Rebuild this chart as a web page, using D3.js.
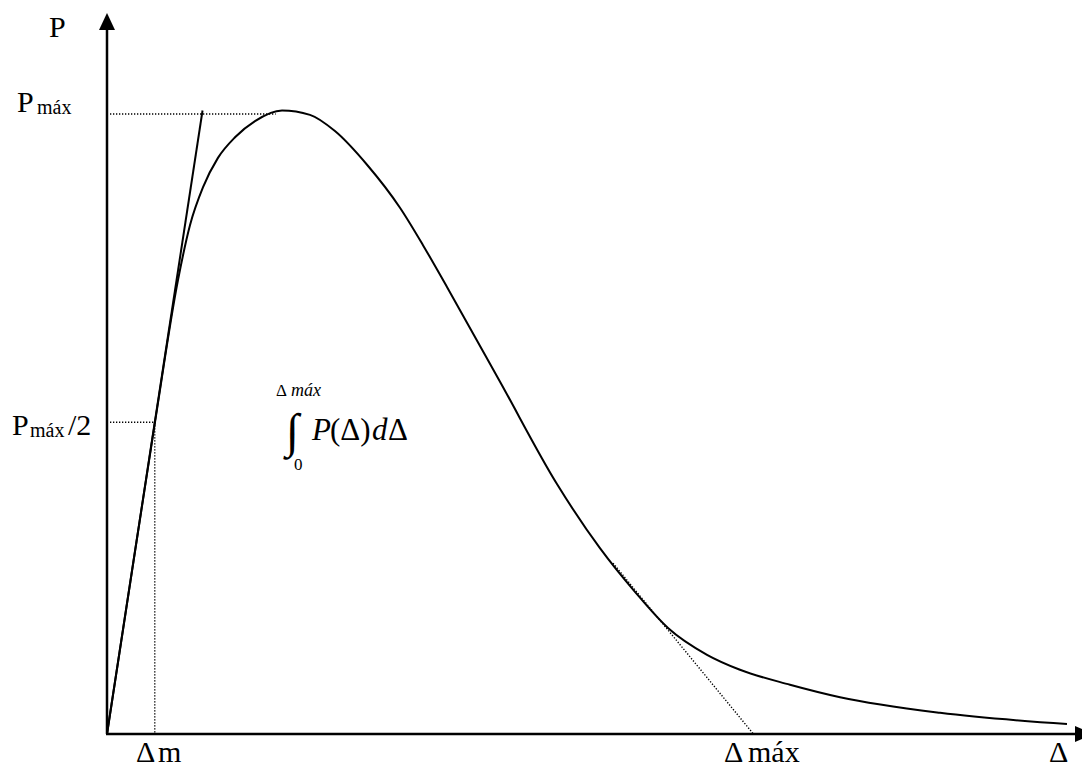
<!DOCTYPE html>
<html><head><meta charset="utf-8">
<script src="https://cdn.jsdelivr.net/npm/d3@7"></script>
<style>html,body{margin:0;padding:0;background:#fff;}svg{display:block;}
text{font-family:"Liberation Serif","Times New Roman","DejaVu Serif",serif;fill:#000;}</style>
</head><body>
<script>
// Curve P(Δ): Δ in arbitrary units, P relative to Pmáx
const deltaValues = [0,0.24,0.492,0.728,0.851,0.985,1.138,1.313,1.518,1.795,2.082,2.338,2.667,3.005,3.241,3.487,4.031,4.615,5.056,5.415,5.754,6.154,6.492,7.005,7.518,8.544,9.846];
const pValues     = [0,0.245,0.500,0.728,0.816,0.877,0.924,0.957,0.983,1.000,0.993,0.967,0.913,0.844,0.784,0.717,0.565,0.401,0.298,0.228,0.170,0.127,0.103,0.079,0.059,0.034,0.016];
// Initial tangent (from origin)
const tangentStart = [0, 0];
const tangentEnd   = [0.98, 1.0];
// Tangent near the tail, ends at Δmáx
const tailTangentStart = [5.19, 0.274];
const tailTangentEnd   = [6.63, 0];
const pMax = 1.0, pHalf = 0.5, deltaM = 0.49, deltaMax = 6.63, pMaxLineEnd = 1.73;
const axisLabels = {y: "P", x: "Δ"};

const W = 1082, H = 769;
const svg = d3.select("body").append("svg").attr("width", W).attr("height", H);
const x = d3.scaleLinear().domain([0, 10]).range([107, 1082]);
const y = d3.scaleLinear().domain([0, 1]).range([734, 110.5]);

// axes
svg.append("line").attr("x1", x(0)).attr("y1", y(0)).attr("x2", x(0)).attr("y2", 28)
  .attr("stroke", "#000").attr("stroke-width", 2.5);
svg.append("path").attr("d", `M${x(0)},13 L${x(0)-8},30 L${x(0)+8},30 Z`).attr("fill", "#000");
svg.append("line").attr("x1", x(0)-1).attr("y1", y(0)).attr("x2", 1077).attr("y2", y(0))
  .attr("stroke", "#000").attr("stroke-width", 2.5);
svg.append("path").attr("d", `M1093,${y(0)} L1075,${y(0)-8} L1075,${y(0)+8} Z`).attr("fill", "#000");

// dotted guides
const dotted = (x1, y1, x2, y2) => svg.append("line").attr("x1", x1).attr("y1", y1).attr("x2", x2).attr("y2", y2)
  .attr("stroke", "#000").attr("stroke-width", 1.4).attr("stroke-dasharray", "1.3,1.7");
dotted(x(0)+3, y(pMax)+3.5, x(pMaxLineEnd), y(pMax)+3.5);
dotted(x(0)+3, y(pHalf), x(deltaM), y(pHalf));
dotted(x(deltaM), y(pHalf), x(deltaM), y(0));
dotted(x(tailTangentStart[0]), y(tailTangentStart[1]), x(tailTangentEnd[0]), y(tailTangentEnd[1]));

// initial tangent line
svg.append("line").attr("x1", x(tangentStart[0])).attr("y1", y(tangentStart[1]))
  .attr("x2", x(tangentEnd[0])).attr("y2", y(tangentEnd[1]))
  .attr("stroke", "#000").attr("stroke-width", 2);

// curve
const pts = deltaValues.map((d, i) => [d, pValues[i]]);
svg.append("path").datum(pts)
  .attr("d", d3.line().x(d => x(d[0])).y(d => y(d[1])).curve(d3.curveMonotoneX))
  .attr("fill", "none").attr("stroke", "#000").attr("stroke-width", 2);

// labels
const T = (tx, ty, s, size, opts = {}) => {
  const t = svg.append("text").attr("x", tx).attr("y", ty).attr("font-size", size).text(s);
  if (opts.italic) t.attr("font-style", "italic");
  return t;
};
T(49, 37, axisLabels.y, 30);
T(17, 112, "P", 30); T(37, 114, "máx", 20);
T(12, 435, "P", 30); T(30, 437, "máx", 20); T(68, 435, "/2", 30);
T(136, 762, "Δ", 30); T(158, 762, "m", 30);
T(724, 762, "Δ", 30); T(748, 762, "máx", 30);
T(1049, 762, axisLabels.x, 30);

// integral
T(276, 396, "Δ", 17); T(291, 396, "máx", 18, {italic: true});
T(286, 447, "∫", 48);
T(312, 440, "P", 31, {italic: true});
svg.append("text").attr("x", 330).attr("y", 440).attr("font-size", 31).text("(Δ)");
T(372, 440, "d", 31, {italic: true});
T(388, 440, "Δ", 31);
T(294, 470, "0", 17);
</script>
</body></html>
